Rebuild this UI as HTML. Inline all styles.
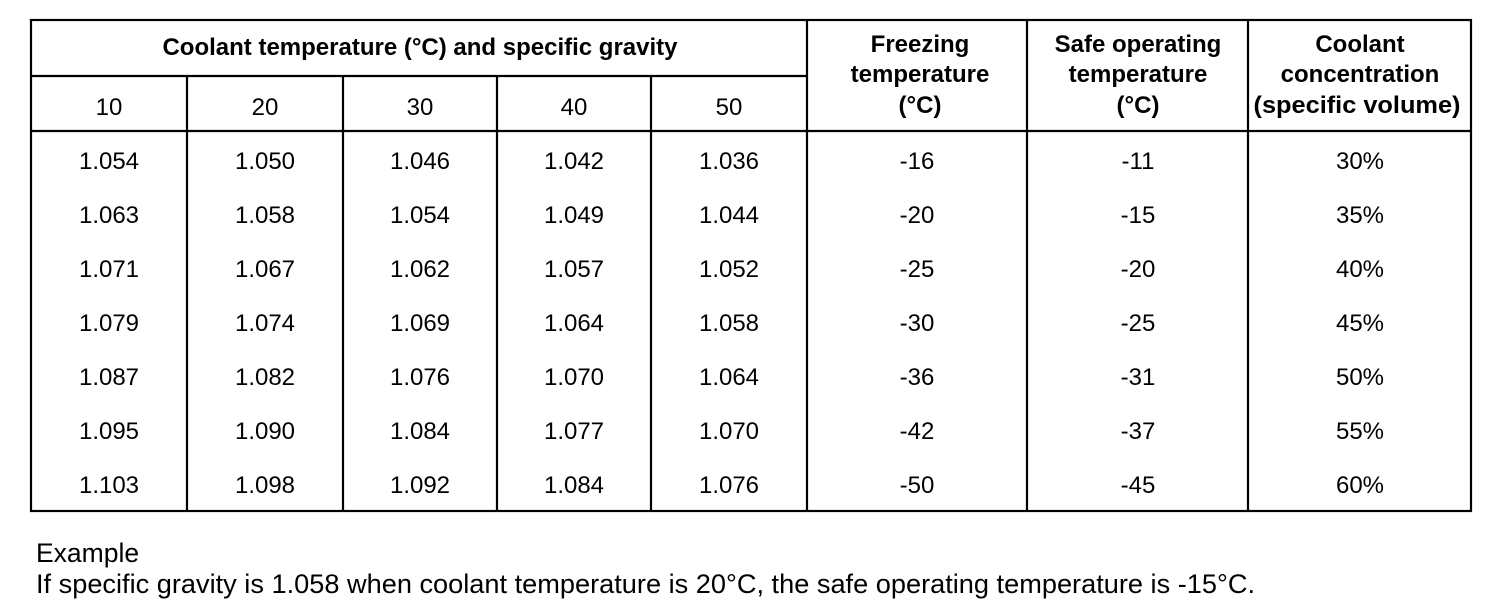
<!DOCTYPE html>
<html><head><style>
body{margin:0;background:#fff;}
svg{display:block}
text{font-family:"Liberation Sans",Arial,sans-serif;fill:#000}
.h{font-weight:bold;font-size:24px}
.d{font-size:24px}
.e{font-size:26.5px}
</style></head><body>
<svg width="1504" height="608" xmlns="http://www.w3.org/2000/svg">
<g stroke="#000" stroke-width="2.2" fill="none">
<rect x="31" y="20" width="1440" height="491"/>
<line x1="31" y1="76" x2="807" y2="76"/>
<line x1="31" y1="131" x2="1471" y2="131"/>
<line x1="187" y1="76" x2="187" y2="511"/>
<line x1="343" y1="76" x2="343" y2="511"/>
<line x1="497" y1="76" x2="497" y2="511"/>
<line x1="651" y1="76" x2="651" y2="511"/>
<line x1="807" y1="20" x2="807" y2="511"/>
<line x1="1027" y1="20" x2="1027" y2="511"/>
<line x1="1248" y1="20" x2="1248" y2="511"/>
</g>
<g text-anchor="middle">
<text class="h" x="420" y="55">Coolant temperature (°C) and specific gravity</text>
<text class="d" x="109" y="115">10</text>
<text class="d" x="265" y="115">20</text>
<text class="d" x="420" y="115">30</text>
<text class="d" x="574" y="115">40</text>
<text class="d" x="729" y="115">50</text>
<text class="h" x="920" y="52">Freezing</text>
<text class="h" x="920" y="82">temperature</text>
<text class="h" x="920" y="113">(°C)</text>
<text class="h" x="1138" y="52">Safe operating</text>
<text class="h" x="1138" y="82">temperature</text>
<text class="h" x="1138" y="113">(°C)</text>
<text class="h" x="1360" y="52">Coolant</text>
<text class="h" x="1360" y="82">concentration</text>
<text class="h" x="1357" y="113" textLength="207" lengthAdjust="spacingAndGlyphs">(specific volume)</text>
</g>
<g text-anchor="middle">
<g transform="translate(0,169)">
<text class="d" x="109">1.054</text><text class="d" x="265">1.050</text><text class="d" x="420">1.046</text><text class="d" x="574">1.042</text><text class="d" x="729">1.036</text><text class="d" x="917">-16</text><text class="d" x="1138">-11</text><text class="d" x="1360">30%</text></g>
<g transform="translate(0,223)">
<text class="d" x="109">1.063</text><text class="d" x="265">1.058</text><text class="d" x="420">1.054</text><text class="d" x="574">1.049</text><text class="d" x="729">1.044</text><text class="d" x="917">-20</text><text class="d" x="1138">-15</text><text class="d" x="1360">35%</text></g>
<g transform="translate(0,277)">
<text class="d" x="109">1.071</text><text class="d" x="265">1.067</text><text class="d" x="420">1.062</text><text class="d" x="574">1.057</text><text class="d" x="729">1.052</text><text class="d" x="917">-25</text><text class="d" x="1138">-20</text><text class="d" x="1360">40%</text></g>
<g transform="translate(0,331)">
<text class="d" x="109">1.079</text><text class="d" x="265">1.074</text><text class="d" x="420">1.069</text><text class="d" x="574">1.064</text><text class="d" x="729">1.058</text><text class="d" x="917">-30</text><text class="d" x="1138">-25</text><text class="d" x="1360">45%</text></g>
<g transform="translate(0,385)">
<text class="d" x="109">1.087</text><text class="d" x="265">1.082</text><text class="d" x="420">1.076</text><text class="d" x="574">1.070</text><text class="d" x="729">1.064</text><text class="d" x="917">-36</text><text class="d" x="1138">-31</text><text class="d" x="1360">50%</text></g>
<g transform="translate(0,439)">
<text class="d" x="109">1.095</text><text class="d" x="265">1.090</text><text class="d" x="420">1.084</text><text class="d" x="574">1.077</text><text class="d" x="729">1.070</text><text class="d" x="917">-42</text><text class="d" x="1138">-37</text><text class="d" x="1360">55%</text></g>
<g transform="translate(0,493)">
<text class="d" x="109">1.103</text><text class="d" x="265">1.098</text><text class="d" x="420">1.092</text><text class="d" x="574">1.084</text><text class="d" x="729">1.076</text><text class="d" x="917">-50</text><text class="d" x="1138">-45</text><text class="d" x="1360">60%</text></g>
</g>
<text class="e" x="36" y="562">Example</text>
<text class="e" x="36" y="593" textLength="1219" lengthAdjust="spacingAndGlyphs">If specific gravity is 1.058 when coolant temperature is 20°C, the safe operating temperature is -15°C.</text>
</svg>
</body></html>
